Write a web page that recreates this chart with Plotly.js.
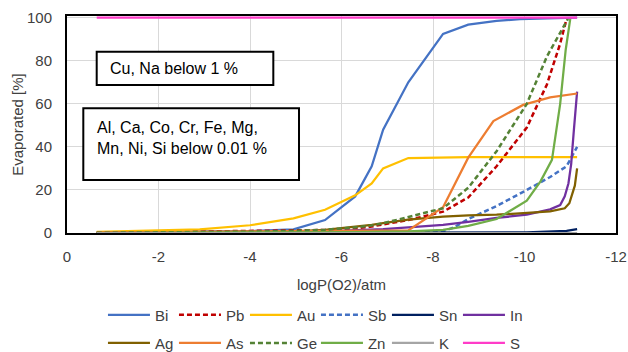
<!DOCTYPE html>
<html>
<head>
<meta charset="utf-8">
<script src="https://cdn.plot.ly/plotly-3.0.1.min.js"></script>
<style>html,body{margin:0;padding:0;background:#fff;}#chart{width:628px;height:352px;}</style>
</head>
<body>
<div id="chart"></div>
<script>
// ---- data ----
const biX = [-0.65, -2.9, -4.0, -4.95, -5.64, -6.3, -6.66, -6.91, -7.46, -8.22, -8.77, -9.39, -9.9, -10.5, -11.15];
const biY = [0.3, 0.6, 0.9, 1.7, 6, 17, 31, 48, 70, 92.5, 96.8, 98.5, 99.3, 99.7, 100];

const pbX = [-0.65, -2.9, -4.0, -4.95, -5.64, -6.3, -6.66, -6.91, -7.46, -8.22, -8.77, -9.39, -10.05, -10.49, -10.78, -10.92];
const pbY = [0.1, 0.6, 0.9, 1.1, 1.4, 2.1, 3.0, 4.0, 6.0, 9.9, 16.5, 31, 49, 69, 88, 99.5];

const auX = [-0.65, -2.9, -4.0, -4.95, -5.64, -6.3, -6.66, -6.91, -7.46, -8.22, -8.77, -9.39, -10.05, -11.15];
const auY = [0.5, 1.7, 3.6, 6.8, 10.8, 17.5, 23, 30, 34.8, 35.1, 35.2, 35.2, 35.2, 35.2];

const sbX = [-0.65, -4.95, -6.3, -7.46, -8.22, -8.45, -8.77, -9.39, -10.05, -10.56, -10.92, -11.15];
const sbY = [0, 0.1, 0.2, 0.4, 0.8, 2.5, 6.5, 12.5, 20, 26, 31, 40];

const snX = [-0.65, -4.95, -8.22, -10.05, -10.92, -11.15];
const snY = [0, 0.05, 0.1, 0.3, 1.0, 1.8];

const inX = [-0.65, -4.95, -5.64, -6.3, -6.91, -7.46, -8.22, -8.77, -9.39, -10.05, -10.56, -10.78, -10.88, -10.96, -11.02, -11.08, -11.15];
const inY = [0, 0.3, 0.8, 1.2, 1.8, 2.6, 3.8, 5.2, 7, 8.5, 11, 13, 17, 23, 32, 48, 65.7];

const agX = [-0.65, -2.9, -4.0, -4.95, -5.64, -6.3, -6.66, -6.91, -7.46, -8.22, -8.77, -9.39, -10.05, -10.56, -10.88, -10.98, -11.1, -11.15];
const agY = [0.1, 0.3, 0.5, 0.8, 1.4, 2.8, 3.8, 4.6, 6.2, 7.6, 8.2, 8.5, 9.2, 10, 11.5, 13.8, 22, 30];

const asX = [-0.65, -2.9, -4.95, -6.3, -7.46, -8.22, -8.77, -9.32, -9.97, -10.56, -11.15];
const asY = [0.2, 0.5, 0.8, 1.0, 1.2, 12, 35, 52, 59.5, 63, 64.8];

const geX = [-0.65, -2.9, -4.0, -4.95, -5.64, -6.3, -6.66, -6.91, -7.46, -8.22, -8.77, -9.39, -10.05, -10.49, -10.95];
const geY = [0.1, 0.3, 0.6, 1.0, 1.5, 2.6, 3.5, 4.5, 7.5, 11.5, 21, 38, 60, 82, 99.5];

const znX = [-0.65, -4.95, -6.3, -7.46, -8.22, -8.77, -9.39, -10.05, -10.35, -10.6, -10.78, -10.9, -11.0];
const znY = [0, 0.2, 0.4, 0.8, 1.5, 3.3, 6.5, 15, 24, 34, 60, 85, 99.5];

const kX = [-0.65, -4.95, -8.22, -11.15];
const kY = [0, 0, 0, 0];

const sX = [-0.65, -4.95, -8.22, -11.15];
const sY = [100, 100, 100, 100];

const xTicks = [0, -2, -4, -6, -8, -10, -12];
const yTicks = [0, 20, 40, 60, 80, 100];

const note1 = "Cu, Na below 1 %";
const note2 = "Al, Ca, Co, Cr, Fe, Mg,<br>Mn, Ni, Si below 0.01 %";

// ---- series definitions ----
const series = [
  {name: "Bi", x: biX, y: biY, color: "#4472C4", dash: "solid", lg: "legend"},
  {name: "Pb", x: pbX, y: pbY, color: "#C00000", dash: "5px,3px", lg: "legend"},
  {name: "Au", x: auX, y: auY, color: "#FFC000", dash: "solid", lg: "legend"},
  {name: "Sb", x: sbX, y: sbY, color: "#4472C4", dash: "5px,3px", lg: "legend"},
  {name: "Sn", x: snX, y: snY, color: "#002060", dash: "solid", lg: "legend"},
  {name: "In", x: inX, y: inY, color: "#7030A0", dash: "solid", lg: "legend"},
  {name: "Ag", x: agX, y: agY, color: "#806000", dash: "solid", lg: "legend2"},
  {name: "As", x: asX, y: asY, color: "#ED7D31", dash: "solid", lg: "legend2"},
  {name: "Ge", x: geX, y: geY, color: "#548235", dash: "5px,3px", lg: "legend2"},
  {name: "Zn", x: znX, y: znY, color: "#70AD47", dash: "solid", lg: "legend2"},
  {name: "K",  x: kX,  y: kY,  color: "#A5A5A5", dash: "solid", lg: "legend2"},
  {name: "S",  x: sX,  y: sY,  color: "#FF3CC8", dash: "solid", lg: "legend2"}
];

const traces = series.map(s => ({
  type: "scatter", mode: "lines", name: s.name, x: s.x, y: s.y,
  line: {color: s.color, width: s.dash === "solid" ? 2.25 : 2.5, dash: s.dash},
  legend: s.lg, hoverinfo: "skip"
}));

const font = "Liberation Sans, Arial, sans-serif";
const txt = "#404040";

const legendCommon = {
  orientation: "h", xanchor: "left", yanchor: "middle",
  font: {family: font, size: 15, color: txt},
  itemwidth: 42, entrywidth: 14, entrywidthmode: "pixels",
  bgcolor: "rgba(0,0,0,0)", borderwidth: 0, traceorder: "normal",
  itemclick: false, itemdoubleclick: false
};

const layout = {
  width: 628, height: 352,
  margin: {l: 67, r: 12, t: 16, b: 119, autoexpand: false},
  paper_bgcolor: "#fff", plot_bgcolor: "#fff",
  font: {family: font, size: 15, color: txt},
  showlegend: true,
  xaxis: {
    range: [0, -12], tickvals: xTicks, ticktext: xTicks.map(String),
    showgrid: true, gridcolor: "#D9D9D9", gridwidth: 1,
    zeroline: false, showline: true, mirror: true, linecolor: "#000", linewidth: 2,
    ticks: "", ticklabelstandoff: 9, tickfont: {family: font, size: 15, color: txt},
    title: {text: "logP(O2)/atm", font: {family: font, size: 15, color: txt}, standoff: 15}
  },
  yaxis: {
    range: [0, 100.8], tickvals: yTicks, ticktext: yTicks.map(String),
    showgrid: true, gridcolor: "#D9D9D9", gridwidth: 1,
    zeroline: false, showline: true, mirror: true, linecolor: "#000", linewidth: 2,
    ticks: "", ticklabelstandoff: 10, tickfont: {family: font, size: 15, color: txt},
    title: {text: "Evaporated [%]", font: {family: font, size: 15, color: txt}, standoff: 0}
  },
  legend: Object.assign({}, legendCommon, {x: 0.0655, y: -0.378}),
  legend2: Object.assign({}, legendCommon, {x: 0.0655, y: -0.508}),
  shapes: [
    {type: "rect", xref: "paper", yref: "paper", x0: 0.0541, x1: 0.3758, y0: 0.682, y1: 0.8355,
     line: {color: "#000", width: 2}, fillcolor: "#fff", layer: "above"},
    {type: "rect", xref: "paper", yref: "paper", x0: 0.0297, x1: 0.4226, y0: 0.2442, y1: 0.5747,
     line: {color: "#000", width: 2}, fillcolor: "#fff", layer: "above"}
  ],
  annotations: [
    {xref: "paper", yref: "paper", x: 0.0747, y: 0.758, xanchor: "left", yanchor: "middle",
     text: note1, showarrow: false, align: "left", font: {family: font, size: 16, color: "#000"}},
    {xref: "paper", yref: "paper", x: 0.051, y: 0.4355, xanchor: "left", yanchor: "middle",
     text: note2, showarrow: false, align: "left", font: {family: font, size: 16, color: "#000"}}
  ]
};

Plotly.newPlot("chart", traces, layout, {staticPlot: true, displayModeBar: false});
</script>
</body>
</html>
